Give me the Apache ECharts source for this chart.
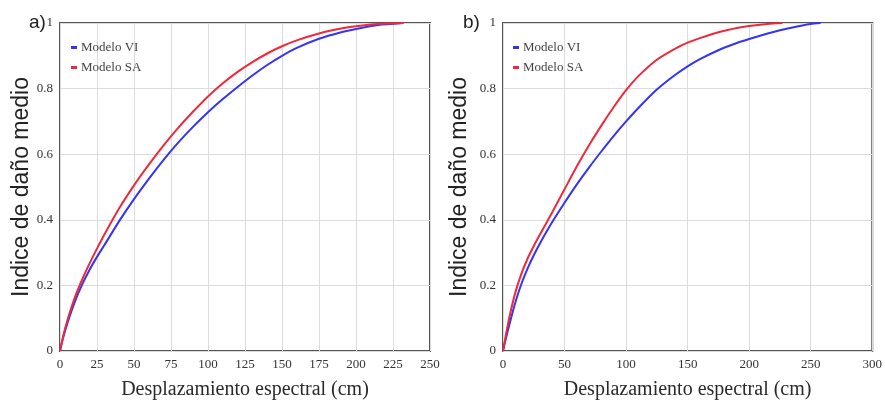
<!DOCTYPE html>
<html>
<head>
<meta charset="utf-8">
<script src="https://cdn.jsdelivr.net/npm/echarts@6/dist/echarts.min.js"></script>
<style>
html,body{margin:0;padding:0;background:#fff;}
#chart{width:885px;height:412px;}
</style>
</head>
<body>
<div id="chart"></div>
<script type="text/javascript">
// panel a) curves
var dispA    = [0, 2, 5, 10, 15, 20, 25, 30, 40, 50, 60, 70, 80, 90, 100, 110, 120, 130, 140, 150, 160, 175, 190, 200, 215, 232];
var viA      = [0, 0.038, 0.085, 0.15, 0.203, 0.248, 0.287, 0.323, 0.396, 0.463, 0.525, 0.583, 0.636, 0.684, 0.728, 0.768, 0.805, 0.84, 0.872, 0.9, 0.924, 0.952, 0.972, 0.982, 0.994, 1];
var saA      = [0, 0.043, 0.094, 0.163, 0.218, 0.267, 0.312, 0.355, 0.435, 0.505, 0.568, 0.627, 0.681, 0.73, 0.776, 0.816, 0.851, 0.881, 0.907, 0.929, 0.947, 0.968, 0.983, 0.99, 0.997, 1];

// panel b) curves
var dispBvi  = [0, 2, 5, 10, 15, 20, 25, 30, 40, 50, 60, 70, 80, 90, 100, 110, 125, 140, 150, 160, 175, 190, 200, 215, 225, 240, 250, 258];
var viB      = [0, 0.033, 0.078, 0.148, 0.205, 0.252, 0.292, 0.328, 0.393, 0.452, 0.508, 0.56, 0.609, 0.656, 0.7, 0.741, 0.797, 0.842, 0.868, 0.89, 0.917, 0.939, 0.951, 0.968, 0.978, 0.99, 0.997, 1];
var dispBsa  = [0, 2, 5, 10, 15, 20, 25, 30, 40, 50, 60, 70, 80, 90, 100, 110, 125, 140, 150, 160, 175, 190, 200, 215, 227];
var saB      = [0, 0.042, 0.1, 0.178, 0.236, 0.282, 0.32, 0.355, 0.423, 0.493, 0.563, 0.628, 0.688, 0.744, 0.795, 0.838, 0.888, 0.922, 0.94, 0.954, 0.972, 0.985, 0.991, 0.997, 1];

var names = ['Modelo VI', 'Modelo SA'];
var colVI = '#3434f2';
var colSA = '#ee2a3a';

function pairs(xs, ys)
{
	var out = [];
	for (var i = 0; i < xs.length; i++) out.push([xs[i], ys[i]]);
	return out;
}

var serifFont = '"Liberation Serif", "DejaVu Serif", serif';
var sansFont  = '"Liberation Sans", Arial, sans-serif';

function xAxisFor(idx, max, step)
{
	return {
		type: 'value', gridIndex: idx, min: 0, max: max, interval: step,
		name: 'Desplazamiento espectral (cm)', nameLocation: 'middle', nameGap: 29,
		nameTextStyle: {fontFamily: serifFont, fontSize: 20, color: '#2a2a2a'},
		axisLine: {show: false}, axisTick: {show: false},
		axisLabel: {fontFamily: serifFont, fontSize: 13, color: '#333', margin: 7},
		splitLine: {show: true, lineStyle: {color: '#dcdcdc', width: 1}}
	};
}

function yAxisFor(idx, gap)
{
	return {
		type: 'value', gridIndex: idx, min: 0, max: 1, interval: 0.2,
		name: 'Indice de daño medio', nameLocation: 'middle', nameGap: gap,
		nameTextStyle: {fontFamily: sansFont, fontSize: 23, color: '#222'},
		axisLine: {show: false}, axisTick: {show: false},
		axisLabel: {fontFamily: serifFont, fontSize: 13, color: '#333', margin: 7},
		splitLine: {show: true, lineStyle: {color: '#dcdcdc', width: 1}}
	};
}

function lineSeries(name, idx, data, color)
{
	return {
		name: name, type: 'line', xAxisIndex: idx, yAxisIndex: idx,
		data: data, showSymbol: false, smooth: 0.2,
		lineStyle: {color: color, width: 2}, itemStyle: {color: color}
	};
}

var legendStyle = {
	orient: 'vertical', itemWidth: 6, itemHeight: 3, itemGap: 7, icon: 'rect',
	textStyle: {fontFamily: serifFont, fontSize: 13, color: '#444', padding: [0, 0, 0, -1]}
};

var option = {
	animation: false,
	title: [
		{text: 'a)', left: 24, top: 8, textStyle: {fontFamily: sansFont, fontSize: 19, fontWeight: 'normal', color: '#222'}},
		{text: 'b)', left: 458, top: 8, textStyle: {fontFamily: sansFont, fontSize: 19, fontWeight: 'normal', color: '#222'}}
	],
	legend: [
		Object.assign({data: names, left: 66, top: 36}, legendStyle),
		Object.assign({data: names, left: 508, top: 36}, legendStyle)
	],
	grid: [
		{left: 60, right: 455, top: 23, bottom: 61, show: true, borderColor: '#555', borderWidth: 2, backgroundColor: '#fff'},
		{left: 503, right: 11, top: 23, bottom: 61, show: true, borderColor: '#555', borderWidth: 2, backgroundColor: '#fff'}
	],
	xAxis: [xAxisFor(0, 250, 25), xAxisFor(1, 300, 50)],
	yAxis: [yAxisFor(0, 26), yAxisFor(1, 32)],
	series: [
		lineSeries(names[0], 0, pairs(dispA, viA), colVI),
		lineSeries(names[1], 0, pairs(dispA, saA), colSA),
		lineSeries(names[0], 1, pairs(dispBvi, viB), colVI),
		lineSeries(names[1], 1, pairs(dispBsa, saB), colSA)
	]
};

echarts.init(document.getElementById('chart')).setOption(option);
</script>
</body>
</html>
